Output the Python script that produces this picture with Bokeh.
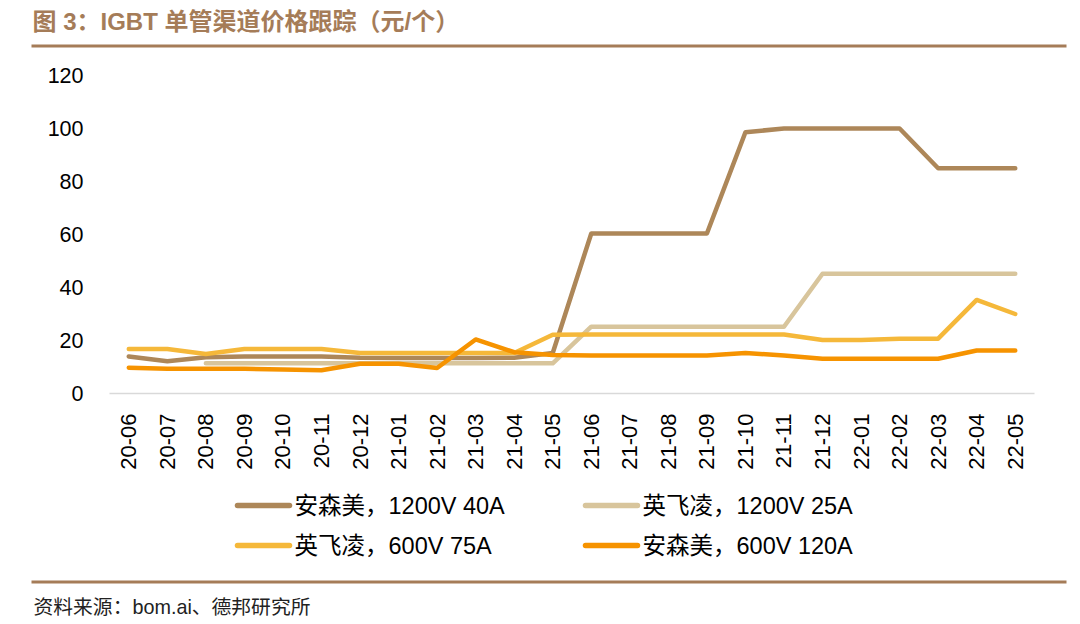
import math
import numpy as np
from bokeh.plotting import figure
from bokeh.models import Range1d, FactorRange, FixedTicker
from bokeh.layouts import column
from bokeh.embed import file_html
from bokeh.resources import INLINE
from bokeh.core.properties import value

# ---------------- data ----------------
months = ["20-06", "20-07", "20-08", "20-09", "20-10", "20-11", "20-12",
          "21-01", "21-02", "21-03", "21-04", "21-05", "21-06", "21-07",
          "21-08", "21-09", "21-10", "21-11", "21-12", "22-01", "22-02",
          "22-03", "22-04", "22-05"]

onsemi_1200v_40a = [14, 12.2, 13.7, 14, 14, 14, 13.5, 13.4, 13.4, 13.4, 13.5, 15.3,
                    60.4, 60.4, 60.4, 60.4, 98.6, 100, 100, 100, 100, 85, 85, 85]
infineon_1200v_25a = [None, None, 11.4, 11.4, 11.4, 11.4, 11.4, 11.4, 11.4, 11.4, 11.4, 11.4,
                      25.2, 25.2, 25.2, 25.2, 25.2, 25.2, 45.2, 45.2, 45.2, 45.2, 45.2, 45.2]
infineon_600v_75a = [16.8, 16.8, 14.9, 16.8, 16.8, 16.8, 15.3, 15.3, 15.3, 15.3, 15.3, 22.2,
                     22.3, 22.3, 22.3, 22.3, 22.3, 22.3, 20.2, 20.2, 20.7, 20.7, 35.3, 30.0]
onsemi_600v_120a = [9.7, 9.3, 9.3, 9.3, 9.1, 8.8, 11.2, 11.2, 9.6, 20.4, 15.6, 14.5,
                    14.3, 14.3, 14.3, 14.3, 15.3, 14.3, 13.1, 13.1, 13.1, 13.1, 16.2, 16.2]

series = [onsemi_1200v_40a, infineon_1200v_25a, infineon_600v_75a, onsemi_600v_120a]
legend_labels = ["安森美，1200V 40A", "英飞凌，1200V 25A",
                 "英飞凌，600V 75A", "安森美，600V 120A"]
y_ticks = [0, 20, 40, 60, 80, 100, 120]
title_text = "图 3：IGBT 单管渠道价格跟踪（元/个）"
source_text = "资料来源：bom.ai、德邦研究所"

# ---------------- styles ----------------
colors = ["#AD8759", "#D8C59C", "#F5B83A", "#F69300"]
brown = "#A57C58"
LAT = "Liberation Sans, Noto Sans CJK SC"
W = 1080


def blank(h, y_top, y_bottom):
    f = figure(width=W, height=h, x_range=Range1d(0, W),
               y_range=Range1d(y_bottom, y_top), output_backend="svg",
               toolbar_location=None, x_axis_type=None, y_axis_type=None,
               min_border=0, frame_align=False)
    f.min_border_left = 0
    f.min_border_right = 0
    f.min_border_top = 0
    f.min_border_bottom = 0
    f.outline_line_color = None
    f.grid.visible = False
    return f


# ---------------- header ----------------
head = blank(60, 0, 60)
head.text(x=[32], y=[21], text=[title_text], text_baseline="middle",
          text_align="left", text_font=value(LAT), text_font_size="24px",
          text_font_style="bold", text_color=brown)
head.segment(x0=[31], y0=[45.5], x1=[1066], y1=[45.5], line_width=3,
             line_color=brown)

# ---------------- main chart ----------------
p = figure(width=W, height=420, x_range=FactorRange(factors=months),
           y_range=Range1d(0, 120), output_backend="svg",
           toolbar_location=None, min_border_left=109, min_border_right=46,
           min_border_top=15, min_border_bottom=87, frame_align=False)
p.outline_line_color = None
p.xgrid.visible = False
p.ygrid.visible = False

for vals, c in zip(series, colors):
    p.line(x=months, y=np.array(vals, dtype=float), line_width=4.5,
           line_color=c, line_cap="round", line_join="round")

p.yaxis.ticker = FixedTicker(ticks=y_ticks)
p.yaxis.axis_line_color = None
p.yaxis.major_tick_line_color = None
p.yaxis.minor_tick_line_color = None
p.yaxis.major_label_standoff = 20
p.yaxis.major_label_text_font = LAT
p.yaxis.major_label_text_font_size = "21.5px"
p.yaxis.major_label_text_color = "#000000"

p.xaxis.axis_line_color = "#D9D9D9"
p.xaxis.axis_line_width = 1.5
p.xaxis.major_tick_line_color = None
p.xaxis.minor_tick_line_color = None
p.xaxis.major_label_orientation = math.pi / 2
p.xaxis.major_label_standoff = 14
p.xaxis.major_label_text_font = LAT
p.xaxis.major_label_text_font_size = "22px"
p.xaxis.major_label_text_color = "#000000"

# ---------------- legend + footer ----------------
foot = blank(144, 480, 624)
leg_x = [237, 585, 237, 585]
leg_y = [505, 505, 545, 545]
foot.segment(x0=leg_x, y0=leg_y, x1=[x + 52 for x in leg_x], y1=leg_y,
             line_width=5.5, line_color=colors, line_cap="round")
foot.text(x=[x + 57 for x in leg_x], y=leg_y, text=legend_labels,
          text_baseline="middle", text_align="left", text_font=value(LAT),
          text_font_size="23.5px", text_color="#000000")
foot.segment(x0=[31], y0=[581.5], x1=[1066], y1=[581.5], line_width=3,
             line_color=brown)
foot.text(x=[33], y=[606], text=[source_text], text_baseline="middle",
          text_align="left", text_font=value(LAT), text_font_size="19.8px",
          text_color="#222222")

layout = column(head, p, foot, spacing=0)
open("out.html", "w").write(file_html(layout, INLINE))
